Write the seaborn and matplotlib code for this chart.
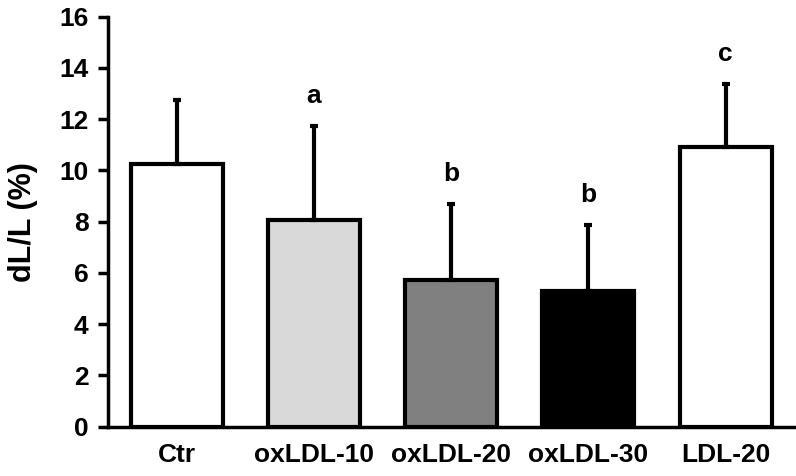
import matplotlib
matplotlib.use("Agg")
import matplotlib.pyplot as plt
import seaborn as sns
import pandas as pd
import numpy as np

groups = ["Ctr", "oxLDL-10", "oxLDL-20", "oxLDL-30", "LDL-20"]
means = [10.26, 8.05, 5.74, 5.30, 10.91]
sds = [2.47, 3.70, 2.96, 2.56, 2.47]
letters = ["", "a", "b", "b", "c"]
colors = ["#ffffff", "#d9d9d9", "#808080", "#000000", "#ffffff"]

sns.set_style("ticks")
plt.rcParams['font.family'] = ['Liberation Sans', 'DejaVu Sans']
plt.rcParams.update({
    'font.weight': 'bold',
    'text.color': 'black',
    'axes.labelcolor': 'black',
    'axes.edgecolor': 'black',
    'xtick.color': 'black',
    'ytick.color': 'black',
})

df = pd.DataFrame({"group": groups, "value": means})

fig = plt.figure(figsize=(7.96, 4.76), dpi=100)
ax = fig.add_axes([0.1357, 0.1036, 0.862, 0.8614])

sns.barplot(data=df, x="group", y="value", hue="group", palette=colors,
            legend=False, width=0.67, edgecolor="black", linewidth=3,
            errorbar=None, ax=ax)

xpos = np.arange(len(groups))
ax.errorbar(xpos, means, yerr=[np.zeros(len(sds)), sds], fmt="none",
            ecolor="black", elinewidth=3, capsize=3, capthick=3, zorder=1)

pad = 0.7
for x, m, s, t in zip(xpos, means, sds, letters):
    if t:
        ax.text(x, m + s + pad, t, ha="center", va="bottom",
                fontsize=19, fontweight="bold", color="black")

ax.set_xlim(-0.5, 4.5)
ax.set_ylim(0, 16)
ax.set_yticks(range(0, 17, 2))
ax.set_xlabel("")
ax.set_ylabel("dL/L (%)", fontsize=22, fontweight="bold", labelpad=15)
ax.tick_params(axis="y", labelsize=19, width=2.5, length=7, pad=7,
               direction="out")
ax.tick_params(axis="x", labelsize=19, length=0, pad=12)
for lab in ax.get_xticklabels() + ax.get_yticklabels():
    lab.set_fontweight("bold")

sns.despine(ax=ax)
ax.spines["left"].set_linewidth(2.5)
ax.spines["bottom"].set_linewidth(2.5)

fig.savefig("out.png", dpi=100)
